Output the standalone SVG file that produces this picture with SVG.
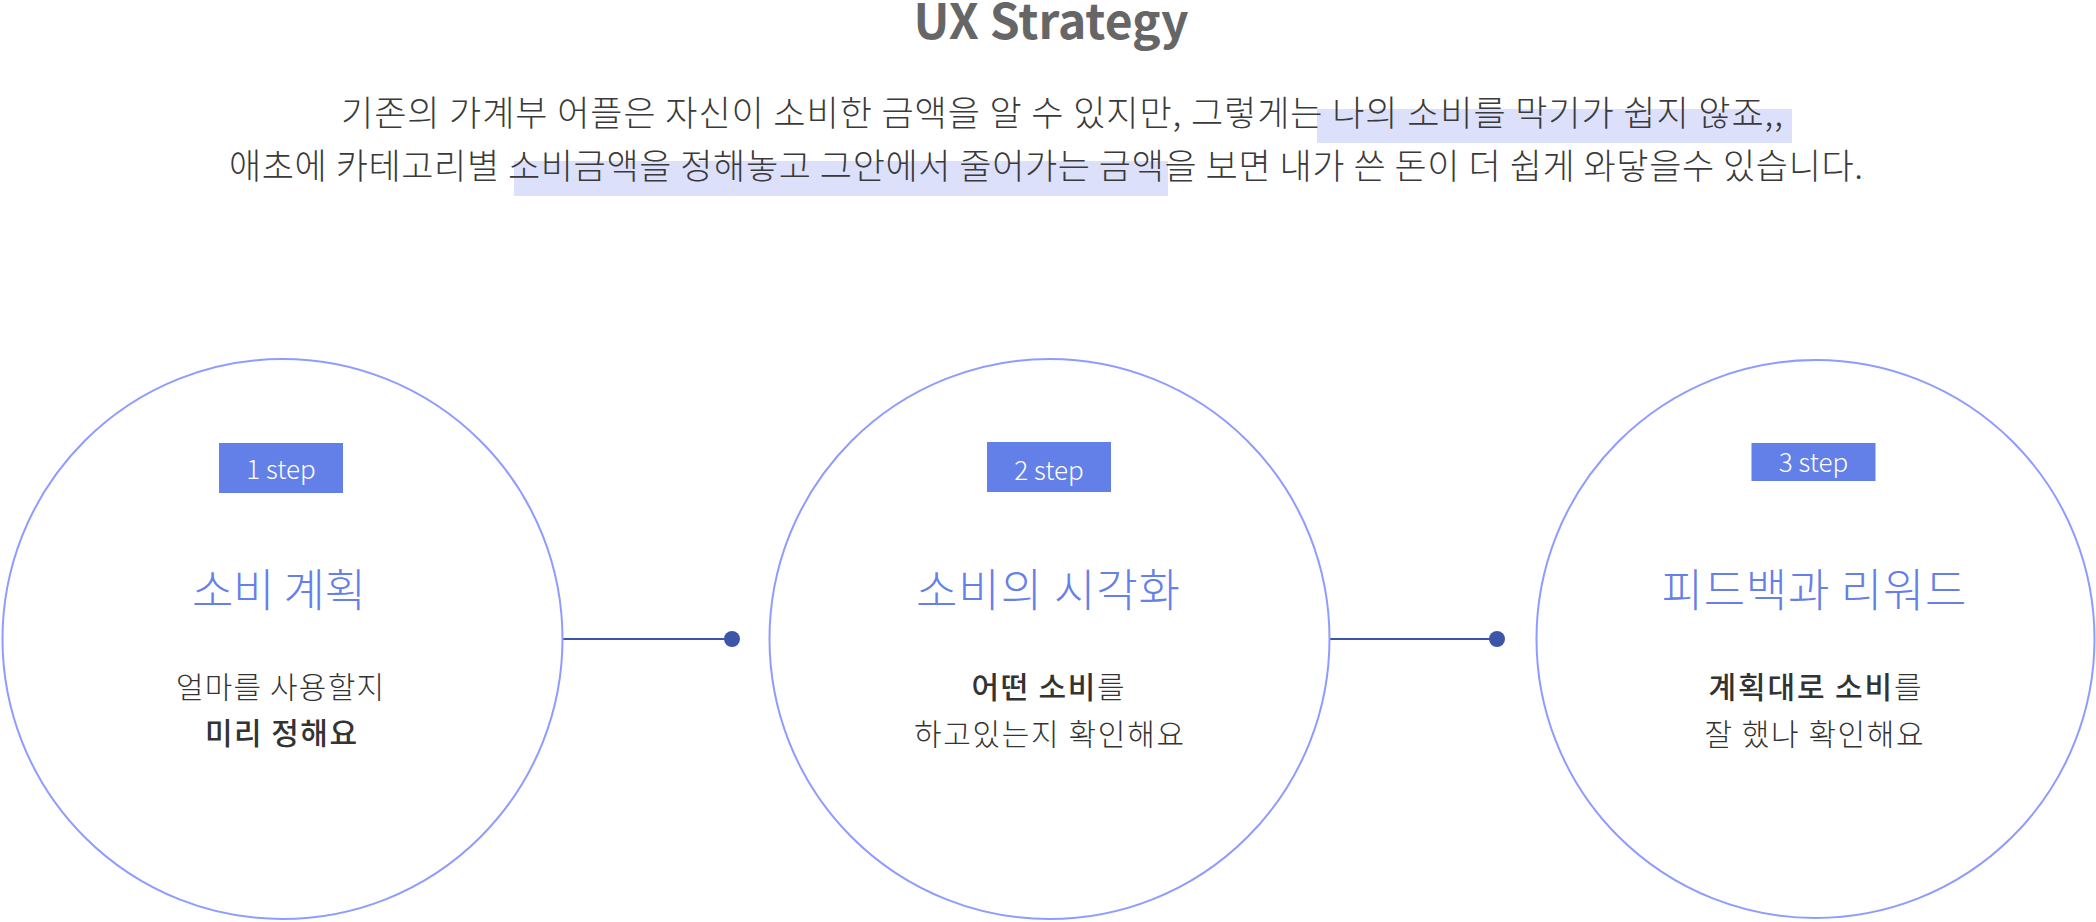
<svg xmlns="http://www.w3.org/2000/svg" width="2096" height="922" viewBox="0 0 2096 922">
  <style>
    .k { font-family: "Noto Sans CJK KR", "Noto Sans", sans-serif; }
    .heading { font-size: 48px; font-weight: 700; fill: #666666; }
    .intro { font-size: 35px; font-weight: 300; fill: #3a3a3a; }
    .mark { fill: #dce0fa; }
    .ring { fill: #ffffff; stroke: #8f9cff; stroke-width: 2; }
    .badge { fill: #6380e8; }
    .badge-text { font-size: 26px; font-weight: 300; fill: #ffffff; }
    .title { font-size: 45px; font-weight: 300; fill: #6580e8; }
    .desc { font-size: 30px; font-weight: 300; fill: #333333; }
    .strong { font-weight: 500; }
    .link { stroke: #3c55a8; stroke-width: 2; fill: none; }
    .knob { fill: #3c55a8; }
  </style>

  <rect width="2096" height="922" fill="#ffffff"/>

  <!-- heading and intro -->
  <g id="header">
    <text class="k heading" x="1051" y="39" text-anchor="middle">UX Strategy</text>
    <rect class="mark" x="1317" y="109" width="475" height="34"/>
    <rect class="mark" x="514" y="161" width="654" height="35"/>
    <text class="k intro" x="341" y="126" textLength="1442" lengthAdjust="spacing">기존의 가계부 어플은 자신이 소비한 금액을 알 수 있지만, 그렇게는 나의 소비를 막기가 쉽지 않죠,,</text>
    <text class="k intro" x="229" y="179" textLength="1634" lengthAdjust="spacing">애초에 카테고리별 소비금액을 정해놓고 그안에서 줄어가는 금액을 보면 내가 쓴 돈이 더 쉽게 와닿을수 있습니다.</text>
  </g>

  <!-- connectors -->
  <g id="connectors">
    <line class="link" x1="563" y1="639" x2="732" y2="639"/>
    <circle class="knob" cx="732" cy="639" r="8"/>
    <line class="link" x1="1328" y1="639" x2="1497" y2="639"/>
    <circle class="knob" cx="1497" cy="639" r="8"/>
  </g>

  <!-- step 1 -->
  <g id="step1">
    <circle class="ring" cx="282.5" cy="639" r="280"/>
    <rect class="badge" x="219" y="443" width="124" height="50"/>
    <text class="k badge-text" x="281" y="479" text-anchor="middle">1 step</text>
    <text class="k title" x="279" y="607" text-anchor="middle" textLength="174" lengthAdjust="spacing">소비 계획</text>
    <text class="k desc" x="280" y="698" text-anchor="middle" textLength="208" lengthAdjust="spacing">얼마를 사용할지</text>
    <text class="k desc strong" x="281" y="744" text-anchor="middle" textLength="152" lengthAdjust="spacing">미리 정해요</text>
  </g>

  <!-- step 2 -->
  <g id="step2">
    <circle class="ring" cx="1049.5" cy="639" r="280"/>
    <rect class="badge" x="987" y="442" width="124" height="50"/>
    <text class="k badge-text" x="1049" y="480" text-anchor="middle">2 step</text>
    <text class="k title" x="1048" y="607" text-anchor="middle" textLength="264" lengthAdjust="spacing">소비의 시각화</text>
    <text class="k desc" x="1048" y="698" text-anchor="middle" textLength="153" lengthAdjust="spacing"><tspan class="strong">어떤 소비</tspan>를</text>
    <text class="k desc" x="1049" y="745" text-anchor="middle" textLength="270" lengthAdjust="spacing">하고있는지 확인해요</text>
  </g>

  <!-- step 3 -->
  <g id="step3">
    <circle class="ring" cx="1815.5" cy="639" r="279"/>
    <rect class="badge" x="1751.5" y="443" width="124" height="38"/>
    <text class="k badge-text" x="1813.5" y="472" text-anchor="middle">3 step</text>
    <text class="k title" x="1814" y="607" text-anchor="middle" textLength="305" lengthAdjust="spacing">피드백과 리워드</text>
    <text class="k desc" x="1815" y="698" text-anchor="middle" textLength="213" lengthAdjust="spacing"><tspan class="strong">계획대로 소비</tspan>를</text>
    <text class="k desc" x="1814" y="745" text-anchor="middle" textLength="219" lengthAdjust="spacing">잘 했나 확인해요</text>
  </g>
</svg>
